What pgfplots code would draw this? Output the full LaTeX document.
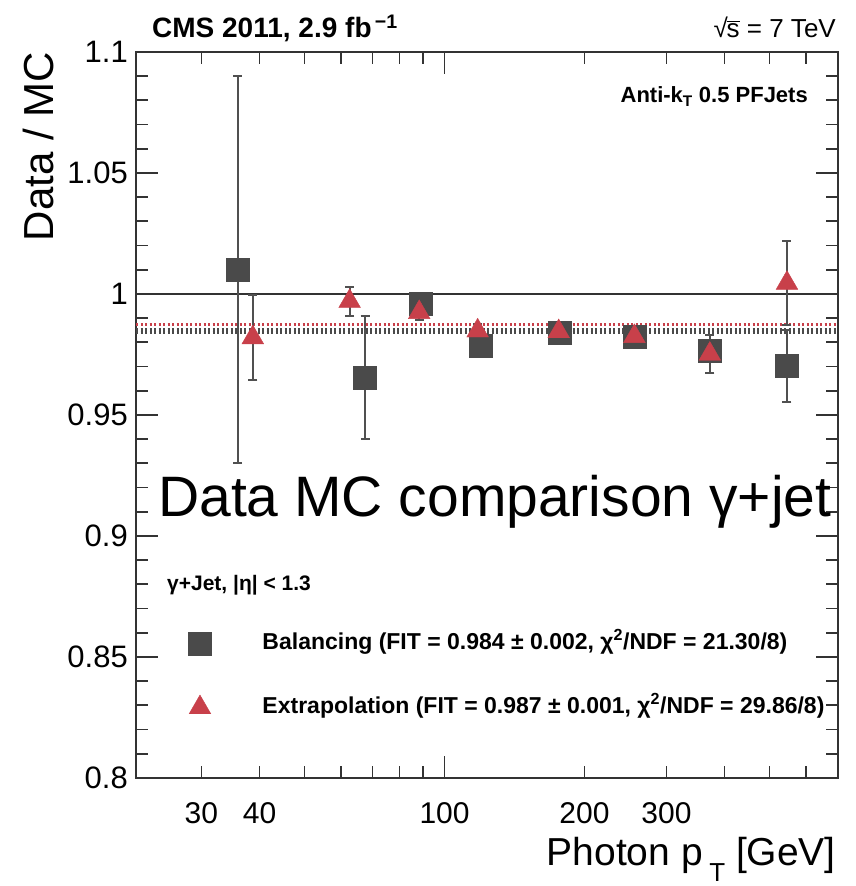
\documentclass[border=0pt]{standalone}
\usepackage{fontspec}
\setmainfont{Liberation Sans}
\usepackage{graphicx}
\usepackage{pgfplots}
\pgfplotsset{compat=1.18}
\definecolor{frame}{HTML}{333333}
\definecolor{bal}{HTML}{4A4A4A}
\definecolor{ext}{HTML}{C8404A}
\definecolor{ebar}{HTML}{505050}
\newcommand{\fs}[1]{\fontsize{#1}{#1}\selectfont}

% balancing (squares) and extrapolation (triangles): pT, ratio, error
\pgfplotstableread{
x y e
35.9 1.0100 0.0800
67.5 0.9654 0.0255
88.9 0.9959 0.0030
119.8 0.9786 0.0030
176.6 0.9840 0.0030
256.8 0.9824 0.0030
372.0 0.9764 0.0040
545.0 0.9702 0.0150
}\balancing
\pgfplotstableread{
x y e
38.7 0.9820 0.0175
62.5 0.9970 0.0060
88.2 0.9924 0.0030
117.8 0.9848 0.0030
176.0 0.9845 0.0030
256.0 0.9825 0.0030
372.0 0.9752 0.0078
545.0 1.0045 0.0175
}\extrapolation

\begin{document}
\begin{tikzpicture}
\useasboundingbox (0pt,0pt) rectangle (855pt,886pt);
\begin{axis}[
  at={(136pt,108pt)}, anchor=south west,
  width=701.5pt, height=726pt, scale only axis,
  xmode=log, xmin=21.7, xmax=700,
  ymin=0.8, ymax=1.1,
  axis line style={frame, line width=2pt},
  tick style={frame, line width=1.8pt},
  major tick length=22pt, minor tick length=12pt,
  xtick={100}, xticklabels={100},
  extra x ticks={30,40,200,300}, extra x tick labels={30,40,200,300},
  extra x tick style={major tick length=12pt},
  minor xtick={50,60,70,80,90,400,500,600},
  ytick={0.8,0.85,0.9,0.95,1,1.05,1.1},
  yticklabels={0.8,0.85,0.9,0.95,1,1.05,1.1},
  minor y tick num=4,
  xticklabel style={font=\fs{30}, anchor=north, inner sep=0pt, yshift=-24pt},
  yticklabel style={font=\fs{31}, anchor=east, inner sep=0pt, xshift=-8pt},
  legend style={at={(0.0748,0.2011)}, anchor=north west, draw=none, fill=none,
    inner sep=0pt, outer sep=0pt, row sep=40pt, column sep=51pt,
    font=\bfseries\fs{23}, nodes={inner sep=0pt, text height=17pt, text depth=5pt}},
  legend cell align=left,
  legend image code/.code={\draw[#1] plot coordinates {(0pt,0pt)};},
]
% fit results
\addplot[ext, line width=3pt, dash pattern=on 2pt off 2.5pt, forget plot] coordinates {(21.7,0.9872) (700,0.9872)};
\addplot[bal, line width=3pt, dash pattern=on 2pt off 2.5pt, forget plot] coordinates {(21.7,0.9855) (700,0.9855)};
\addplot[bal, line width=3pt, dash pattern=on 2pt off 2.5pt, forget plot] coordinates {(21.7,0.9839) (700,0.9839)};
\addplot[frame, line width=2.2pt, forget plot] coordinates {(21.7,1) (700,1)};

\addplot[only marks, mark=square*, mark size=11.5pt, mark options={fill=bal, draw=bal},
  error bars/.cd, y dir=both, y explicit,
  error bar style={ebar, line width=2pt},
  error mark options={ebar, line width=2pt, mark size=4.5pt, rotate=90}]
  table[x=x, y=y, y error=e] {\balancing};
\addlegendentry{Balancing (FIT = 0.984 ± 0.002, χ\textsuperscript{2}/NDF = 21.30/8)}

\addplot[only marks, mark=triangle*, mark size=12.5pt, mark options={fill=ext, draw=ext},
  error bars/.cd, y dir=both, y explicit,
  error bar style={ebar, line width=2pt},
  error mark options={ebar, line width=2pt, mark size=4.5pt, rotate=90}]
  table[x=x, y=y, y error=e] {\extrapolation};
\addlegendentry{Extrapolation (FIT = 0.987 ± 0.001, χ\textsuperscript{2}/NDF = 29.86/8)}
\end{axis}

\node[anchor=base west, font=\bfseries\fs{28}, inner sep=0pt] at (152pt,848pt) {CMS 2011, 2.9 fb\textsuperscript{\,−1}};
\node[anchor=base east, font=\fs{26}, inner sep=0pt] at (836pt,848pt) {√\kern-0.05em\vbox{\hrule height 1.3pt\kern 1.8pt\hbox{s}} = 7 TeV};
\node[anchor=base east, font=\bfseries\fs{22}, inner sep=0pt] at (808pt,783pt) {Anti-k\textsubscript{T} 0.5 PFJets};
\node[anchor=base west, font=\bfseries\fs{21}, inner sep=0pt] at (167pt,295pt) {γ+Jet, |η| < 1.3};
\node[anchor=base west, font=\fs{57}, inner sep=0pt] at (158pt,369pt) {Data MC comparison γ+jet};
\node[rotate=90, anchor=base east, font=\fs{42}, inner sep=0pt] at (53pt,834pt) {Data / MC};
\node[anchor=base east, font=\fs{39}, inner sep=0pt] at (836pt,20pt) {Photon p\,\raisebox{-0.4em}{\fs{26}T} [GeV]};
\end{tikzpicture}
\end{document}
